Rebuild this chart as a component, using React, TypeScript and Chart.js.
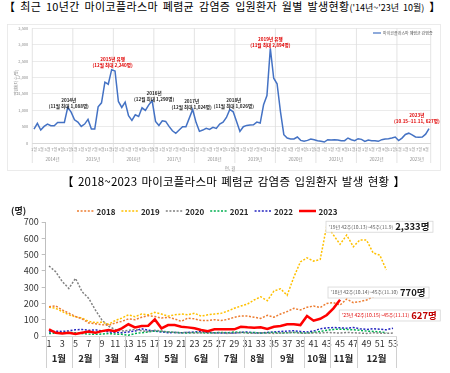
import React, { useEffect, useRef } from "react";
import { Chart, registerables } from "chart.js";

Chart.register(...registerables);

const FONT = "'Noto Sans CJK KR', 'Noto Sans', sans-serif";
Chart.defaults.font.family = FONT;

// ---------- Top chart (monthly, 2014.01 ~ 2023.10) ----------
const years = [2014, 2015, 2016, 2017, 2018, 2019, 2020, 2021, 2022, 2023];
const monthNames = ["1월", "2월", "3월", "4월", "5월", "6월", "7월", "8월", "9월", "10월", "11월", "12월"];
const cases2014 = [426, 598, 395, 507, 578, 527, 527, 629, 629, 629, 1088, 943];
const cases2015 = [710, 639, 507, 578, 720, 426, 426, 1105, 1227, 1856, 1795, 2240];
const cases2016 = [2200, 1268, 1085, 1247, 831, 690, 862, 811, 1075, 994, 1166, 1290];
const cases2017 = [659, 537, 680, 659, 507, 375, 294, 395, 497, 497, 760, 1024];
const cases2018 = [630, 355, 395, 446, 416, 477, 446, 578, 639, 780, 1026, 953];
const cases2019 = [659, 355, 497, 537, 548, 558, 639, 608, 1166, 1450, 2894, 1977];
const cases2020 = [1810, 960, 254, 152, 122, 122, 183, 81, 51, 81, 122, 101];
const cases2021 = [71, 51, 30, 101, 91, 101, 91, 71, 71, 152, 101, 71];
const cases2022 = [132, 111, 51, 91, 71, 71, 51, 101, 122, 132, 152, 183];
const cases2023 = [75, 150, 260, 300, 250, 185, 175, 180, 270, 440];
const monthlyCases = [cases2014, cases2015, cases2016, cases2017, cases2018, cases2019, cases2020, cases2021, cases2022, cases2023];
const topSeriesName = "마이코플라스마 폐렴균 감염증";
const topYTicks = [0, 500, 1000, 1500, 2000, 2500, 3000, 3500];

const topLabels: string[] = [];
const topMonthIdx: number[] = [];
const topData: number[] = [];
monthlyCases.forEach((arr) =>
  arr.forEach((v, mi) => {
    topLabels.push(monthNames[mi]);
    topMonthIdx.push(mi);
    topData.push(v);
  })
);

const topNotes = [
  { index: 10, value: 1125, dx: 1, red: false, lines: ["2014년", "(11월 최대 1,088명)"] },
  { index: 23, value: 2371, dx: 1, red: true, lines: ["2015년 유행", "(12월 최대 2,240명)"] },
  { index: 35, value: 1338, dx: 2, red: false, lines: ["2016년", "(12월 최대 1,290명)"] },
  { index: 47, value: 1085, dx: -1, red: false, lines: ["2017년", "(12월 최대 1,024명)"] },
  { index: 58, value: 1125, dx: 4, red: false, lines: ["2018년", "(11월 최대 1,026명)"] },
  { index: 70, value: 3000, dx: 0, red: true, lines: ["2019년 유행", "(11월 최대 2,894명)"] },
  { index: 113.4, value: 669, dx: 0, red: true, lines: ["2023년", "(10.15~11.11, 627명)"] },
];

// ---------- Bottom chart (weekly, 2018 ~ 2023) ----------
const weekLabels = ["1","2","3","4","5","6","7","8","9","10","11","12","13","14","15","16","17","18","19","20","21","22","23","24","25","26","27","28","29","30","31","32","33","34","35","36","37","38","39","40","41","42","43","44","45","46","47","48","49","50","51","52","53"];
const seasonNames = ["2018", "2019", "2020", "2021", "2022", "2023"];
const weekly2018 = [180, 185, 160, 140, 120, 105, 80, 75, 70, 65, 80, 90, 105, 100, 115, 125, 120, 110, 115, 105, 90, 110, 105, 95, 95, 100, 95, 102, 115, 123, 123, 115, 108, 127, 115, 135, 150, 170, 160, 176, 184, 175, 200, 205, 190, 227, 205, 211, 221, 241, 256, 258];
const weekly2019 = [178, 170, 150, 130, 118, 110, 90, 82, 85, 72, 95, 110, 130, 118, 135, 130, 145, 135, 122, 130, 135, 130, 140, 122, 130, 135, 139, 153, 170, 184, 196, 221, 241, 217, 276, 290, 250, 360, 455, 480, 460, 470, 680, 620, 563, 620, 548, 590, 589, 510, 497, 405];
const weekly2020 = [430, 395, 335, 292, 354, 272, 231, 160, 98, 60, 40, 30, 35, 40, 32, 28, 35, 30, 25, 22, 20, 22, 18, 20, 22, 18, 20, 16, 18, 22, 18, 16, 20, 18, 16, 18, 20, 22, 18, 16, 20, 18, 22, 20, 18, 22, 20, 18, 16, 20, 18, 16, 18];
const weekly2021 = [15, 18, 20, 22, 20, 15, 12, 10, 12, 15, 12, 10, 5, 15, 20, 25, 30, 28, 25, 22, 20, 18, 22, 20, 18, 20, 22, 20, 25, 22, 20, 22, 18, 20, 22, 18, 20, 22, 20, 18, 22, 28, 35, 40, 42, 40, 38, 35, 30, 28, 25, 20];
const weekly2022 = [25, 30, 28, 32, 38, 40, 35, 38, 32, 25, 22, 20, 25, 30, 45, 35, 30, 25, 20, 22, 20, 22, 25, 28, 22, 20, 18, 20, 18, 22, 25, 20, 18, 22, 25, 28, 30, 32, 28, 25, 30, 45, 50, 52, 50, 48, 52, 45, 40, 45, 42, 38, 48];
const weekly2023 = [41, 20, 16, 20, 12, 20, 27, 20, 30, 37, 30, 47, 72, 53, 61, 63, 102, 47, 67, 67, 57, 53, 47, 37, 30, 41, 41, 41, 41, 57, 53, 51, 53, 43, 57, 61, 72, 72, 67, 123, 94, 106, 129, 170, 222];
const weeklySeries = [weekly2018, weekly2019, weekly2020, weekly2021, weekly2022, weekly2023];
const seasonColors = ["#ED7D31", "#FFC000", "#808080", "#00B050", "#2424C0", "#FF0000"];
const monthGroupEnds = [4, 8, 12, 17, 21, 26, 30, 34, 39, 43, 47, 53];

const bottomNotes = [
  { week: 41.8, value: 674, small: "'19년 42주(10.13)~45주(11.9)", big: "2,333명", color: "#595959", bigColor: "#1a1a1a" },
  { week: 42.1, value: 270, small: "'18년 42주(10.14)~45주(11.10)", big: "770명", color: "#595959", bigColor: "#1a1a1a" },
  { week: 43.8, value: 129, small: "'23년 42주(10.15)~45주(11.11)", big: "627명", color: "#E00000", bigColor: "#C00000" },
];

function hline(ctx: CanvasRenderingContext2D, x1: number, y1: number, x2: number, y2: number) {
  ctx.beginPath();
  ctx.moveTo(x1, y1);
  ctx.lineTo(x2, y2);
  ctx.stroke();
}

const topPlugin = {
  id: "topDecor",
  beforeDatasetsDraw(chart: any) {
    const { ctx, chartArea: ca, scales } = chart;
    const x = scales.x;
    const half = (x.getPixelForValue(1) - x.getPixelForValue(0)) / 2;
    ctx.save();
    ctx.strokeStyle = "#dcdcdc";
    ctx.lineWidth = 0.8;
    const bounds: number[] = [];
    topMonthIdx.forEach((m, i) => {
      if (m === 0) bounds.push(x.getPixelForValue(i) - half);
    });
    bounds.push(x.getPixelForValue(topData.length - 1) + half);
    bounds.forEach((b) => hline(ctx, b, ca.top, b, ca.bottom + 20));
    ctx.restore();
  },
  afterDraw(chart: any) {
    const { ctx, chartArea: ca, scales } = chart;
    const x = scales.x;
    const y = scales.y;
    ctx.save();
    // frame
    ctx.strokeStyle = "#e6e6e6";
    ctx.lineWidth = 0.8;
    ctx.strokeRect(7.5, 2.5, 433, 146);
    // month labels
    ctx.fillStyle = "#8c8c8c";
    ctx.textAlign = "center";
    ctx.textBaseline = "middle";
    ctx.font = `4px ${FONT}`;
    topMonthIdx.forEach((m, i) => {
      if (m % 2 === 0) ctx.fillText(topLabels[i], x.getPixelForValue(i), ca.bottom + 6);
    });
    // year labels
    ctx.font = `4.5px ${FONT}`;
    let start = 0;
    monthlyCases.forEach((arr, yi) => {
      const end = start + arr.length - 1;
      const cx = (x.getPixelForValue(start) + x.getPixelForValue(start + 11)) / 2;
      ctx.fillText(`${years[yi]}년`, yi === years.length - 1 ? (x.getPixelForValue(start) + x.getPixelForValue(end)) / 2 + 3 : cx, ca.bottom + 16);
      start = end + 1;
    });
    // axis titles
    ctx.fillText("연, 월", 230, ca.bottom + 25);
    ctx.save();
    ctx.translate(16, (ca.top + ca.bottom) / 2 - 3);
    ctx.rotate(-Math.PI / 2);
    ctx.font = `4px ${FONT}`;
    ctx.fillText("입원환자 수(명)", 0, 0);
    ctx.restore();
    // legend
    ctx.strokeStyle = "#4472C4";
    ctx.lineWidth = 1.2;
    hline(ctx, 373, 11, 381, 11);
    ctx.textAlign = "left";
    ctx.fillStyle = "#595959";
    ctx.font = `4px ${FONT}`;
    ctx.fillText(topSeriesName, 383, 11);
    // annotations
    ctx.textAlign = "center";
    ctx.font = `bold 4.6px ${FONT}`;
    topNotes.forEach((n) => {
      const px = x.getPixelForValue(n.index) + n.dx;
      const py = y.getPixelForValue(n.value);
      ctx.fillStyle = n.red ? "#E00000" : "#262626";
      ctx.fillText(n.lines[0], px, py - 6);
      ctx.fillText(n.lines[1], px, py);
    });
    ctx.restore();
  },
};

const bottomPlugin = {
  id: "bottomDecor",
  afterDraw(chart: any) {
    const { ctx, chartArea: ca, scales } = chart;
    const x = scales.x;
    const y = scales.y;
    const step = x.getPixelForValue(1) - x.getPixelForValue(0);
    ctx.save();
    // month group separators
    ctx.strokeStyle = "#d0d0d0";
    ctx.lineWidth = 1;
    const bounds = [x.getPixelForValue(0) - step / 2];
    monthGroupEnds.forEach((e) => bounds.push(x.getPixelForValue(e - 1) + step / 2));
    bounds.forEach((b) => {
      const px = Math.round(b) + 0.5;
      hline(ctx, px, ca.bottom + 1, px, ca.bottom + 32);
    });
    ctx.font = `bold 9.5px ${FONT}`;
    ctx.fillStyle = "#262626";
    ctx.textAlign = "center";
    ctx.textBaseline = "middle";
    monthGroupEnds.forEach((e, i) => {
      const s = i === 0 ? 1 : monthGroupEnds[i - 1] + 1;
      const cx = (x.getPixelForValue(s - 1) + x.getPixelForValue(e - 1)) / 2;
      ctx.fillText(monthNames[i], cx, ca.bottom + 22);
    });
    // unit
    ctx.textAlign = "left";
    ctx.font = `bold 9px ${FONT}`;
    ctx.fillText("(명)", 11, 18);
    // legend
    chart.data.datasets.forEach((ds: any, i: number) => {
      const x1 = 77 + i * 44.4;
      ctx.strokeStyle = ds.borderColor;
      ctx.lineWidth = ds.borderWidth;
      ctx.setLineDash(ds.borderDash || []);
      hline(ctx, x1, 18, x1 + 17, 18);
      ctx.setLineDash([]);
      ctx.font = `bold 8px ${FONT}`;
      ctx.fillStyle = "#262626";
      ctx.fillText(ds.label, x1 + 19.5, 18.5);
    });
    // note boxes
    bottomNotes.forEach((n) => {
      const left = x.getPixelForValue(n.week);
      const cy = y.getPixelForValue(n.value);
      ctx.font = `5px ${FONT}`;
      const w1 = ctx.measureText(n.small).width;
      ctx.font = `bold 9.5px ${FONT}`;
      const w2 = ctx.measureText(n.big).width;
      const w = 3 + w1 + 2 + w2 + 3;
      const h = 11;
      ctx.fillStyle = "#ffffff";
      ctx.fillRect(left, cy - h / 2, w, h);
      ctx.strokeStyle = "#d6d6d6";
      ctx.lineWidth = 0.8;
      ctx.strokeRect(left + 0.5, cy - h / 2 + 0.5, w, h);
      ctx.fillStyle = n.color;
      ctx.font = `5px ${FONT}`;
      ctx.fillText(n.small, left + 3, cy + 0.5);
      ctx.fillStyle = n.bigColor;
      ctx.font = `bold 9.5px ${FONT}`;
      ctx.fillText(n.big, left + 5 + w1, cy + 0.5);
    });
    ctx.restore();
  },
};

function TopChart() {
  const ref = useRef<HTMLCanvasElement>(null);
  useEffect(() => {
    const chart = new Chart(ref.current as HTMLCanvasElement, {
      type: "line",
      data: {
        labels: topLabels,
        datasets: [
          {
            label: topSeriesName,
            data: topData,
            borderColor: "#4472C4",
            borderWidth: 1.5,
            pointRadius: 0,
            tension: 0,
            fill: false,
          },
        ],
      },
      options: {
        responsive: false,
        animation: false,
        layout: { padding: { left: 0, right: 19.3, top: 6, bottom: 0 } },
        plugins: { legend: { display: false }, tooltip: { enabled: false } },
        scales: {
          x: {
            offset: true,
            grid: { display: false },
            ticks: { display: false },
            border: { display: true, color: "#d9d9d9" },
            afterFit: (s: any) => {
              s.height = 31;
            },
          },
          y: {
            min: 0,
            max: 3500,
            afterBuildTicks: (s: any) => {
              s.ticks = topYTicks.map((v) => ({ value: v }));
            },
            ticks: { font: { size: 4, family: FONT }, color: "#8c8c8c", padding: 4 },
            grid: { color: "#e6e6e6", lineWidth: 0.8, drawTicks: false },
            border: { display: false },
            afterFit: (s: any) => {
              s.width = 32.3;
            },
          },
        },
      },
      plugins: [topPlugin],
    } as any);
    return () => chart.destroy();
  }, []);
  return (
    <canvas
      ref={ref}
      width={450}
      height={152}
      style={{ position: "absolute", left: 0, top: 22, width: 450, height: 152 }}
    />
  );
}

function BottomChart() {
  const ref = useRef<HTMLCanvasElement>(null);
  useEffect(() => {
    const chart = new Chart(ref.current as HTMLCanvasElement, {
      type: "line",
      data: {
        labels: weekLabels,
        datasets: weeklySeries.map((d, i) => ({
          label: seasonNames[i],
          data: d,
          borderColor: seasonColors[i],
          borderWidth: i === 5 ? 2.5 : 1.5,
          borderDash: i === 5 ? [] : [2, 1.6],
          pointRadius: 0,
          tension: 0,
          fill: false,
          order: i === 5 ? 0 : 1,
        })),
      },
      options: {
        responsive: false,
        animation: false,
        layout: { padding: { left: 0, right: 53.7, top: 29, bottom: 0 } },
        plugins: { legend: { display: false }, tooltip: { enabled: false } },
        scales: {
          x: {
            offset: true,
            grid: { display: false, drawTicks: false },
            border: { display: true, color: "#d9d9d9" },
            ticks: {
              autoSkip: false,
              maxRotation: 0,
              minRotation: 0,
              padding: 2,
              color: "#333333",
              font: { size: 9, family: FONT },
              callback: (_v: any, i: number) => (i % 2 === 0 ? weekLabels[i] : ""),
            },
            afterFit: (s: any) => {
              s.height = 37;
            },
          },
          y: {
            min: 0,
            max: 700,
            ticks: { stepSize: 100, color: "#333333", font: { size: 9, family: FONT }, padding: 3 },
            grid: { drawOnChartArea: false, drawTicks: true, tickLength: 4, color: "#bfbfbf" },
            border: { display: true, color: "#bfbfbf" },
            afterFit: (s: any) => {
              s.width = 45.7;
            },
          },
        },
      },
      plugins: [bottomPlugin],
    } as any);
    return () => chart.destroy();
  }, []);
  return (
    <canvas
      ref={ref}
      width={450}
      height={180}
      style={{ position: "absolute", left: 0, top: 193, width: 450, height: 180 }}
    />
  );
}

export default function App() {
  return (
    <div
      style={{
        position: "absolute",
        left: 0,
        top: 0,
        width: 450,
        height: 373,
        background: "#ffffff",
        overflow: "hidden",
        fontFamily: FONT,
      }}
    >
      <div
        style={{
          position: "absolute",
          left: 4,
          top: 1,
          whiteSpace: "nowrap",
          fontSize: 11,
          lineHeight: "11px",
          color: "#000",
          letterSpacing: 0.35,
          wordSpacing: 2,
        }}
      >
        【 최근 10년간 마이코플라스마 폐렴균 감염증 입원환자 월별 발생현황
        <span style={{ fontSize: 9, letterSpacing: 0 }}>('14년~'23년 10월)</span> 】
      </div>
      <TopChart />
      <div
        style={{
          position: "absolute",
          left: 62,
          top: 176,
          whiteSpace: "nowrap",
          fontSize: 11.5,
          lineHeight: "11.5px",
          color: "#000",
          letterSpacing: 0.2,
          wordSpacing: 1.5,
        }}
      >
        【 2018~2023 마이코플라스마 폐렴균 감염증 입원환자 발생 현황 】
      </div>
      <BottomChart />
    </div>
  );
}
